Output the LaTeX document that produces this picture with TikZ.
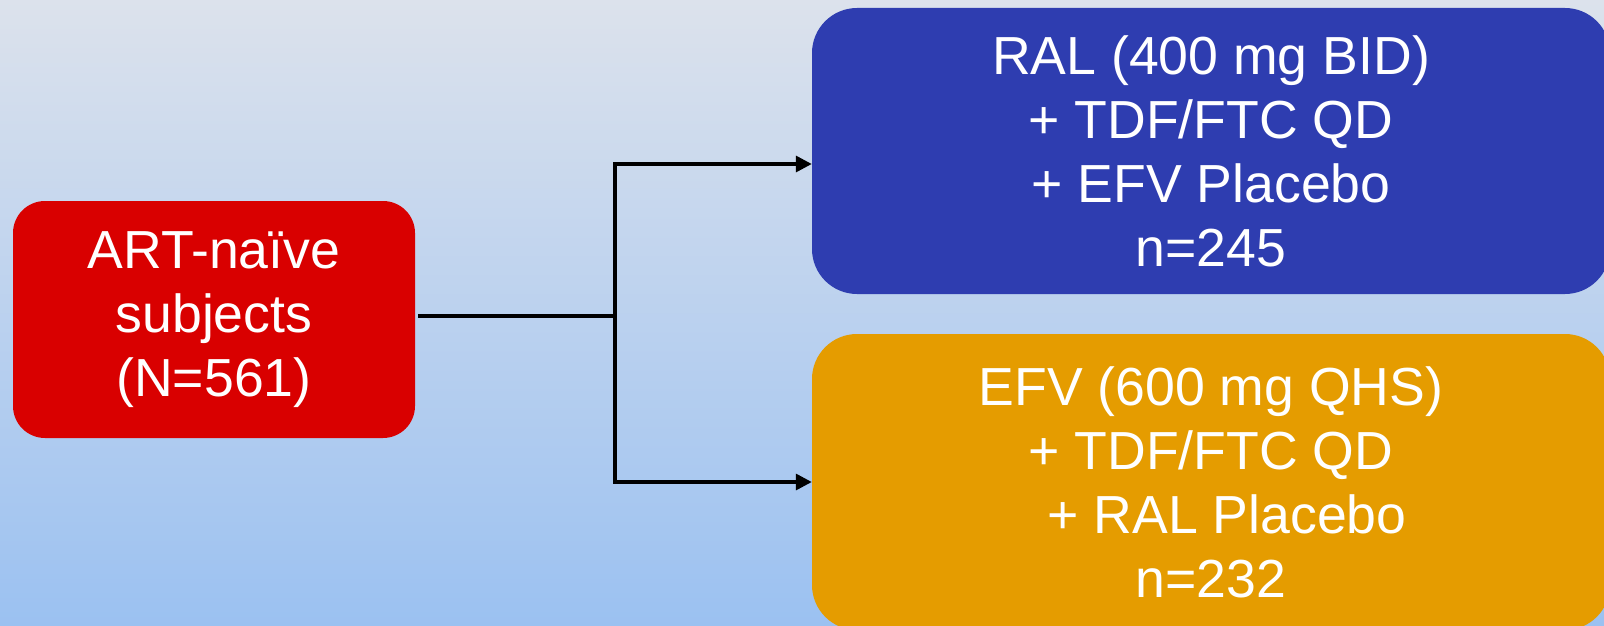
\documentclass[tikz,border=0pt]{standalone}
\usepackage{fontspec}
\setmainfont{Liberation Sans}
\usetikzlibrary{arrows.meta}

\definecolor{bgtop}{HTML}{DCE2EC}
\definecolor{bgmid}{HTML}{C2D6EF}
\definecolor{bgbot}{HTML}{9BC1F1}
\definecolor{armred}{HTML}{D90000}
\definecolor{armblue}{HTML}{2E3DB0}
\definecolor{armorange}{HTML}{E59C00}

\begin{document}
\begin{tikzpicture}[x=1pt,y=-1pt,
  box/.style={rectangle,inner sep=0pt,text=white,align=center,
    font=\fontsize{53.6}{64}\selectfont},
  link/.style={line width=3.3pt},
  flow/.style={link,-{Triangle[length=16pt,width=16pt]}}]
\useasboundingbox (0,0) rectangle (1604,626);
\shade[top color=bgtop,middle color=bgmid,bottom color=bgbot] (0,0) rectangle (1604,626);

\node[box,fill=armred,rounded corners=32pt,minimum width=402pt,minimum height=237pt] (naive) at (214,319.5) {ART-naïve\\subjects\\(N=561)};
\node[box,fill=armblue,rounded corners=45pt,minimum width=798pt,minimum height=286pt] (ral) at (1211,151) {RAL (400 mg BID)\\+ TDF/FTC QD\\+ EFV Placebo\\n=245};
\node[box,fill=armorange,rounded corners=45pt,minimum width=798pt,minimum height=296pt] (efv) at (1211,482) {EFV (600 mg QHS)\\+ TDF/FTC QD\\\hspace*{32pt}+ RAL Placebo\\n=232};

\coordinate (split) at (615,316);
\draw[link] ([xshift=3pt]naive.east |- split) -- (split);
\draw[flow] (split) |- ([yshift=-13pt]ral.west);
\draw[flow] (split) |- (efv.west);
\end{tikzpicture}
\end{document}
